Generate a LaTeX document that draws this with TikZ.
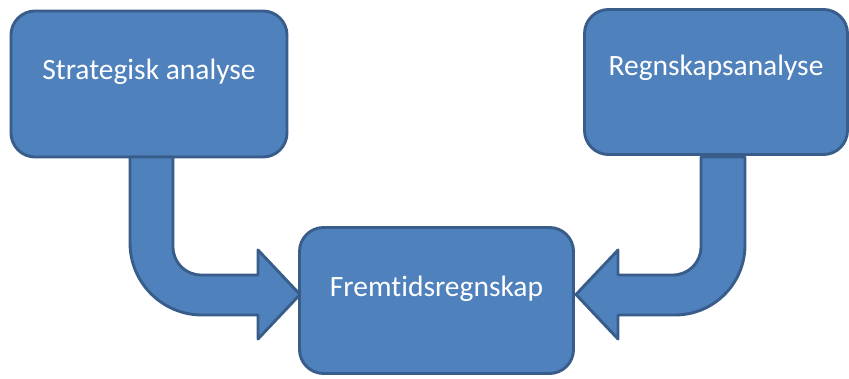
\documentclass[tikz,border=0pt]{standalone}
\usepackage{fontspec}
\setmainfont{Carlito}[Ligatures=NoCommon]
\begin{document}
\begin{tikzpicture}[x=1pt,y=-1pt,
  box/.style={draw=boxline, fill=boxfill, line width=2.9pt, rounded corners=24pt,
    inner sep=0pt, text=white, font=\fontsize{29.5pt}{34pt}\selectfont, text height=20pt},
  barrow/.style={draw=boxline, fill=boxfill, line width=2.9pt, line join=round}]
\definecolor{boxfill}{HTML}{4F81BD}
\definecolor{boxline}{HTML}{385D8A}
\useasboundingbox (0,0) rectangle (849,379);
\node[box, minimum width=276pt, minimum height=146pt, text depth=28pt] (sa) at (149,84) {Strategisk analyse};
\node[box, minimum width=263pt, minimum height=145pt, text depth=32pt] (ra) at (716,82) {Regnskapsanalyse};
\node[box, minimum width=274pt, minimum height=146pt, text depth=27pt] (fr) at (436.5,300.5) {Fremtidsregnskap};
% bent arrow from left box
\path[barrow] (173,157) -- (173,247) .. controls (173,262.5) and (185.5,275) .. (201,275)
  -- (258,275) -- (258,250) -- (300,294.5) -- (258,339) -- (258,315) -- (202,315)
  .. controls (162.3,315) and (130,282.7) .. (130,243) -- (130,157) -- cycle;
% bent arrow from right box
\path[barrow] (701,157) -- (701,247) .. controls (701,262.5) and (688.5,275) .. (673,275)
  -- (618,275) -- (618,250) -- (576,294.5) -- (618,339) -- (618,315) -- (675,315)
  .. controls (713.7,315) and (745,283.7) .. (745,245) -- (745,157) -- cycle;
\end{tikzpicture}
\end{document}
